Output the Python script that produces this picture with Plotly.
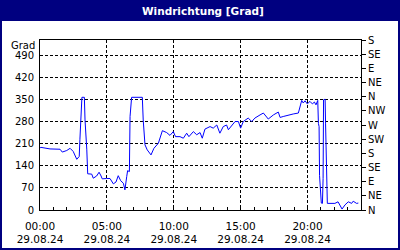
import plotly.graph_objects as go

times = ["00:00","00:04","00:45","01:30","01:40","02:00","02:15","02:29","02:45","02:56",
         "02:59","03:04","03:08","03:19","03:22","03:30","03:34","03:52","03:59","04:14",
         "04:25","04:34","04:39","04:59","05:14","05:29","05:41","05:51","06:02","06:14",
         "06:21","06:29","06:33","06:41","06:44","06:51","07:39","07:43","07:51","08:01",
         "08:18","08:31","08:51","09:09","09:28","09:43","09:58","10:08","10:28","10:43",
         "10:58","11:08","11:28","11:43","11:58","12:08","12:20","12:43","12:57","13:13",
         "13:27","13:42","13:57","14:05","14:20","14:35","14:50","15:00","15:12","15:34",
         "15:50","16:04","16:27","16:42","17:04","17:27","17:49","17:57","18:11","18:34",
         "18:56","19:19","19:27","19:34","19:41","19:49","19:59","20:11","20:22","20:31",
         "20:38","20:46","20:49","20:52","20:54","20:58","21:02","21:07","21:10","21:12",
         "21:19","21:21","21:24","21:27","21:29","22:03","22:17","22:35","22:48","23:03",
         "23:18","23:25","23:40","23:48"]
grad = [197,199,194,193,184,189,196,186,161,170,
        223,313,358,358,286,191,115,114,101,108,
        120,108,99,100,100,83,89,109,93,85,
        64,106,125,122,297,358,358,286,207,191,
        175,196,212,252,246,237,249,233,233,228,
        244,233,249,239,246,228,257,265,260,270,
        244,265,270,255,270,281,281,260,281,292,
        281,292,302,308,289,302,311,294,297,302,
        305,308,334,348,340,347,337,345,337,343,
        334,348,275,265,110,50,22,21,100,350,
        352,276,186,74,21,21,26,3,16,26,
        21,28,21,22]

date = "2024-08-29"
date_label = "29.08.24"
x_tick_hours = [0, 5, 10, 15, 20]
y_ticks = [0, 70, 140, 210, 280, 350, 420, 490]
dir_vals = [0, 45, 90, 135, 180, 225, 270, 315, 360, 405, 450, 495, 540]
dir_text = ["N","NE","E","SE","S","SW","W","NW","N","NE","E","SE","S"]
title = "Windrichtung [Grad]"
unit = "Grad"

xs = [f"{date} {t}" for t in times]
NAVY = "#000080"
FONT = "DejaVu Sans"
DASH = "3px,2px"

fig = go.Figure()
fig.add_trace(go.Scatter(x=xs, y=grad, mode="lines",
                         line=dict(color="#0000FF", width=1), showlegend=False))
fig.add_trace(go.Scatter(x=[xs[0]], y=[0], yaxis="y2", mode="markers",
                         marker=dict(opacity=0), showlegend=False, hoverinfo="skip"))

# pixel -> paper helpers (plot area 40..361 x, 40..210 y)
L, R, T, B = 40, 361, 40, 210
def xp(px): return (px - L) / (R - L)
def yp(py): return (B - py) / (B - T)

fig.update_layout(
    width=400, height=250,
    margin=dict(l=L, r=400 - R, t=T, b=250 - B, autoexpand=False),
    paper_bgcolor="white", plot_bgcolor="white",
    font=dict(family=FONT, size=10, color="black"),
    xaxis=dict(
        type="date",
        range=[f"{date} 00:00", "2024-08-30 00:00"],
        tickvals=[f"{date} {h:02d}:00" for h in x_tick_hours],
        ticktext=[f"{h:02d}:00<br>{date_label}" for h in x_tick_hours],
        showgrid=True, gridcolor="black", griddash=DASH, gridwidth=1,
        showline=True, linecolor="black", linewidth=1, mirror=True,
        ticks="inside", ticklen=3, tickcolor="black",
        minor=dict(dtick=3600000, ticks="inside", ticklen=3, tickcolor="black", showgrid=False),
        zeroline=False, ticklabelstandoff=6, automargin=False,
        tickfont=dict(size=10.5),
    ),
    yaxis=dict(
        range=[0, 540], tickvals=y_ticks,
        showgrid=True, gridcolor="black", griddash=DASH, gridwidth=1,
        showline=True, linecolor="black", linewidth=1, mirror=True,
        ticks="", zeroline=False, ticklabelstandoff=3, automargin=False,
    ),
    yaxis2=dict(
        range=[0, 540], overlaying="y", side="right",
        tickvals=dir_vals, ticktext=dir_text,
        showgrid=False, zeroline=False, showline=False,
        ticks="outside", ticklen=4, tickcolor="black", automargin=False,
    ),
    shapes=[
        dict(type="rect", xref="paper", yref="paper",
             x0=xp(0), x1=xp(400), y0=yp(21), y1=yp(0),
             fillcolor=NAVY, line=dict(width=0), layer="above"),
        dict(type="rect", xref="paper", yref="paper",
             x0=xp(1), x1=xp(399), y0=yp(249), y1=yp(1),
             line=dict(color=NAVY, width=2), fillcolor="rgba(0,0,0,0)"),
    ],
    annotations=[
        dict(text=f"<b>{title}</b>", xref="paper", yref="paper",
             x=xp(203), y=yp(11), showarrow=False,
             font=dict(family=FONT, size=10.5, color="white"),
             xanchor="center", yanchor="middle"),
        dict(text=unit, xref="paper", yref="paper",
             x=xp(37), y=yp(45), showarrow=False,
             xanchor="right", yanchor="middle",
             font=dict(family=FONT, size=10, color="black")),
    ],
)

fig.write_html("out.html")
